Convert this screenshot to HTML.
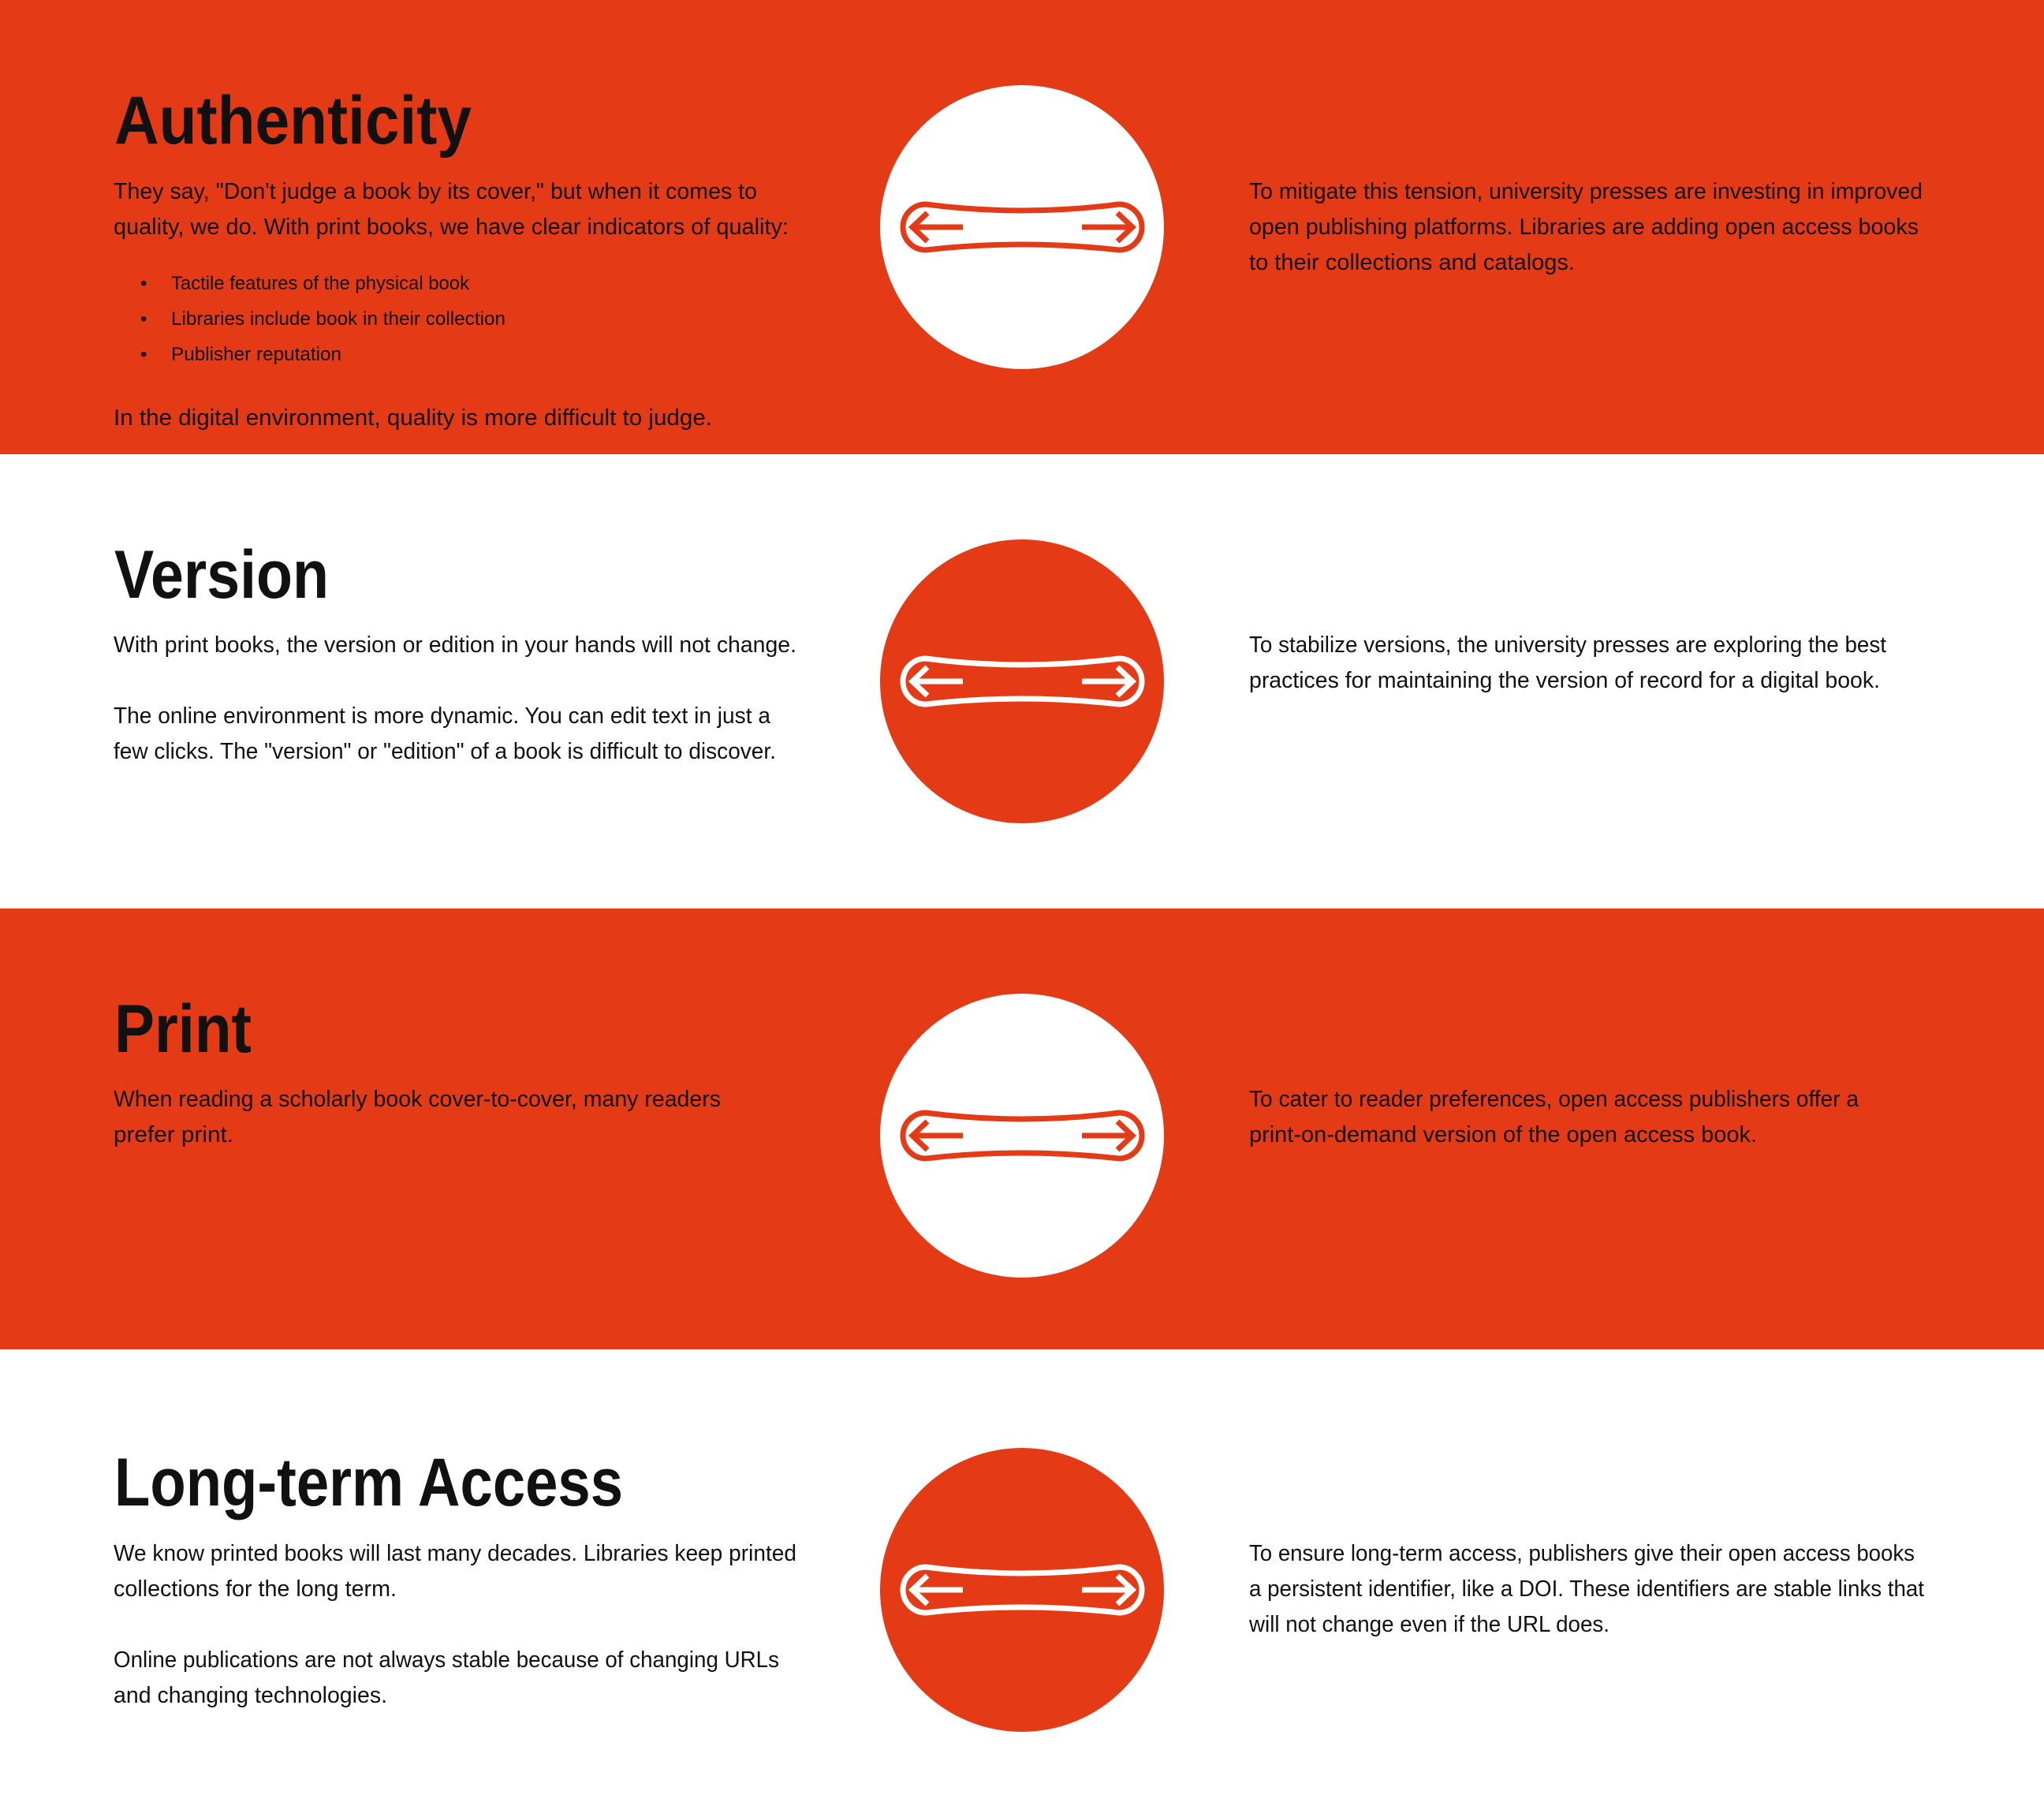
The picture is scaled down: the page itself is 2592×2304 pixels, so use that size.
<!DOCTYPE html>
<html><head><meta charset="utf-8"><style>
html,body{margin:0;padding:0;background:#fff}
svg{display:block}
text{font-family:"Liberation Sans",sans-serif;fill:#111}
.h{font-weight:bold;font-size:86px}
.b{font-size:29px}
.s{font-size:24px}
</style></head><body>
<svg width="2592" height="2304" viewBox="0 0 2592 2304" xmlns="http://www.w3.org/2000/svg">
<defs>
<g id="ic">
<path d="M -122 -29 Q 0 -13 123 -29 A 29 29 0 0 1 123 29 Q 0 15 -122 29 A 29 29 0 0 1 -122 -29 Z" fill="none" stroke-width="7"/>
<path d="M -75 0 H -139 M -120 -18 L -139 0 L -120 18 M 76 0 H 140 M 121 -18 L 140 0 L 121 18" fill="none" stroke-width="7"/>
</g>
</defs>
<rect x="0" y="0" width="2592" height="576" fill="#E43A16"/>
<rect x="0" y="1152" width="2592" height="559" fill="#E43A16"/>

<!-- icons -->
<circle cx="1296" cy="288" r="180" fill="#fff"/>
<use href="#ic" x="1296" y="288" stroke="#E43A16"/>
<circle cx="1296" cy="864" r="180" fill="#E43A16"/>
<use href="#ic" x="1296" y="864" stroke="#fff"/>
<circle cx="1296" cy="1440" r="180" fill="#fff"/>
<use href="#ic" x="1296" y="1440" stroke="#E43A16"/>
<circle cx="1296" cy="2016" r="180" fill="#E43A16"/>
<use href="#ic" x="1296" y="2016" stroke="#fff"/>

<!-- Section 1 -->
<text class="h" x="145" y="182" textLength="453" lengthAdjust="spacingAndGlyphs">Authenticity</text>
<text class="b" x="144" y="252" textLength="816" lengthAdjust="spacingAndGlyphs">They say, "Don't judge a book by its cover," but when it comes to</text>
<text class="b" x="144" y="297" textLength="856" lengthAdjust="spacingAndGlyphs">quality, we do. With print books, we have clear indicators of quality:</text>
<text class="s" x="178" y="367">•</text>
<text class="s" x="217" y="367" textLength="378" lengthAdjust="spacingAndGlyphs">Tactile features of the physical book</text>
<text class="s" x="178" y="412">•</text>
<text class="s" x="217" y="412" textLength="424" lengthAdjust="spacingAndGlyphs">Libraries include book in their collection</text>
<text class="s" x="178" y="457">•</text>
<text class="s" x="217" y="457" textLength="216" lengthAdjust="spacingAndGlyphs">Publisher reputation</text>
<text class="b" x="144" y="539" textLength="759" lengthAdjust="spacingAndGlyphs">In the digital environment, quality is more difficult to judge.</text>
<text class="b" x="1584" y="252" textLength="854" lengthAdjust="spacingAndGlyphs">To  mitigate this tension, university presses are investing in improved</text>
<text class="b" x="1584" y="297" textLength="849" lengthAdjust="spacingAndGlyphs">open publishing platforms. Libraries are adding open access books</text>
<text class="b" x="1584" y="342" textLength="413" lengthAdjust="spacingAndGlyphs">to their collections and catalogs.</text>

<!-- Section 2 -->
<text class="h" x="145" y="758" textLength="272" lengthAdjust="spacingAndGlyphs">Version</text>
<text class="b" x="144" y="827" textLength="866" lengthAdjust="spacingAndGlyphs">With print books, the version or edition in your hands will not change.</text>
<text class="b" x="144" y="917" textLength="833" lengthAdjust="spacingAndGlyphs">The online environment is more dynamic. You can edit text in just a</text>
<text class="b" x="144" y="962" textLength="840" lengthAdjust="spacingAndGlyphs">few clicks. The "version" or "edition" of a book is difficult to discover.</text>
<text class="b" x="1584" y="827" textLength="808" lengthAdjust="spacingAndGlyphs">To stabilize versions, the university presses are exploring the best</text>
<text class="b" x="1584" y="872" textLength="800" lengthAdjust="spacingAndGlyphs">practices for maintaining the version of record for a digital book.</text>

<!-- Section 3 -->
<text class="h" x="145" y="1334" textLength="174" lengthAdjust="spacingAndGlyphs">Print</text>
<text class="b" x="144" y="1403" textLength="770" lengthAdjust="spacingAndGlyphs">When reading a scholarly book cover-to-cover, many readers</text>
<text class="b" x="144" y="1448" textLength="152" lengthAdjust="spacingAndGlyphs">prefer print.</text>
<text class="b" x="1584" y="1403" textLength="773" lengthAdjust="spacingAndGlyphs">To cater to reader preferences, open access publishers offer a</text>
<text class="b" x="1584" y="1448" textLength="644" lengthAdjust="spacingAndGlyphs">print-on-demand version of the open access book.</text>

<!-- Section 4 -->
<text class="h" x="145" y="1909" textLength="645" lengthAdjust="spacingAndGlyphs">Long-term Access</text>
<text class="b" x="144" y="1979" textLength="866" lengthAdjust="spacingAndGlyphs">We know printed books will last many decades. Libraries keep printed</text>
<text class="b" x="144" y="2024" textLength="359" lengthAdjust="spacingAndGlyphs">collections for the long term.</text>
<text class="b" x="144" y="2114" textLength="844" lengthAdjust="spacingAndGlyphs">Online publications are not always stable because of changing URLs</text>
<text class="b" x="144" y="2159" textLength="347" lengthAdjust="spacingAndGlyphs">and changing technologies.</text>
<text class="b" x="1584" y="1979" textLength="844" lengthAdjust="spacingAndGlyphs">To ensure long-term access, publishers give their open access books</text>
<text class="b" x="1584" y="2024" textLength="856" lengthAdjust="spacingAndGlyphs">a persistent identifier, like a DOI. These identifiers are stable links that</text>
<text class="b" x="1584" y="2069" textLength="457" lengthAdjust="spacingAndGlyphs">will not change even if the URL does.</text>
</svg>
</body></html>
